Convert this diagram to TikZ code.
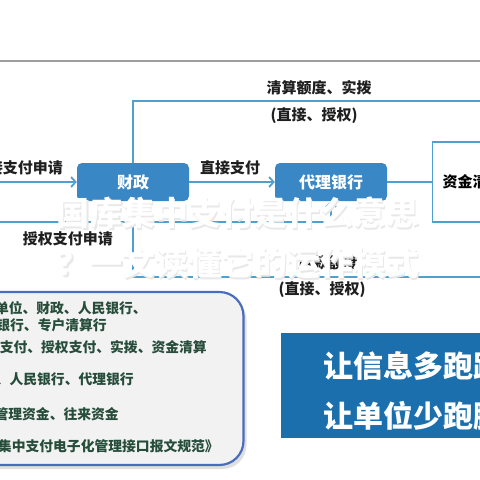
\documentclass[tikz,border=0pt]{standalone}
\usepackage{fontspec}
\setmainfont{Noto Sans CJK SC}
\usetikzlibrary{arrows.meta,shadows}
\definecolor{boxblue}{RGB}{58,135,198}
\definecolor{lineblue}{RGB}{78,160,206}
\definecolor{deepblue}{RGB}{26,111,172}
\definecolor{panelline}{RGB}{72,108,190}
\definecolor{panelfill}{RGB}{242,242,242}
\definecolor{notegreen}{RGB}{38,76,58}
\tikzset{
	box/.style={rounded corners=5pt,fill=boxblue,text=white,minimum width=112pt,minimum height=38pt,font=\fontsize{16}{16}\selectfont\bfseries},
	outbox/.style={draw=lineblue,line width=1.3pt,minimum width=90pt,minimum height=80pt,text width=70pt,align=left,font=\fontsize{15}{15}\selectfont\bfseries},
	flow/.style={draw=lineblue,line width=1.8pt},
	tip/.style={-{Straight Barb[length=4.5pt,width=10pt]}},
	lbl/.style={inner sep=0pt,text=black!88,font=\fontsize{15}{15}\selectfont\bfseries},
	note/.style={inner sep=0pt,anchor=east,text=notegreen,font=\fontsize{13.8}{14}\selectfont\bfseries},
	panel/.style={rounded corners=24pt,draw=panelline,line width=2.2pt,fill=panelfill,drop shadow={shadow xshift=3pt,shadow yshift=-4pt,opacity=.25}},
	slogan/.style={inner sep=0pt,anchor=west,text=white,font=\fontsize{30}{30}\selectfont\bfseries},
	wm/.style={inner sep=0pt,text=white,font=\fontsize{33}{33}\selectfont\bfseries}
}
\begin{document}
\begin{tikzpicture}[x=1pt,y=-1pt]
	\useasboundingbox (0,0) rectangle (480,480);
	\clip (0,0) rectangle (480,480);
	\fill[white] (0,0) rectangle (480,480);
	\draw[black!38,line width=2pt] (0,61) -- (480,61);

	% flow part
	\node [box] (cz) at (133,182) {财政};
	\node [box] (dl) at (331,182) {代理银行};
	\node [outbox,anchor=west] (zj) at (432,182) {资金清算};

	\coordinate (in1) at (0,182);
	\coordinate (in2) at (0,222);
	\coordinate (top) at (480,101);
	\coordinate (bot) at (480,277);

	\draw [flow,tip] (in1) -- (cz);
	\draw [flow,tip] (cz) -- (dl);
	\draw [flow] (dl) -- (zj);
	\draw [flow] (cz.north) |- (top);
	\draw [flow,tip] (in2) -| (dl.south);
	\draw [flow] (cz.south) |- (bot);

	\node [lbl,anchor=east] at (63,168) {直接支付申请};
	\node [lbl] at (230,168) {直接支付};
	\node [lbl] at (319,88) {清算额度、实拨};
	\node [lbl] at (314,116) {(直接、授权)};
	\node [lbl] at (68,239) {授权支付申请};
	\node [lbl] at (328,263) {用款额度};
	\node [lbl] at (322,290) {(直接、授权)};

	% notes
	\node [panel,minimum width=275pt,minimum height=173pt] (info) at (106,378.5) {};
	\node [note] at (147,308) {单位、财政、人民银行、};
	\node [note] at (107,325) {银行、专户清算行};
	\node [note] at (207,347) {支付、授权支付、实拨、资金清算};
	\node [note] at (134,379) {、人民银行、代理银行};
	\node [note] at (119,414) {管理资金、往来资金};
	\node [note] at (219,446) {集中支付电子化管理接口报文规范》};

	\node [fill=deepblue,anchor=north west,minimum width=230pt,minimum height=105pt] (sl) at (281,333) {};
	\node [slogan] at (323,366) {让信息多跑路};
	\node [slogan] at (323,416) {让单位少跑腿};

	% title overlay
	\foreach \t/\y in {国库集中支付是什么意思/213,？一文读懂它的运作模式/263} {
		\node [wm,text=black!9] at (239.5,\y+1.5) {\t};
		\node [wm] at (238,\y) {\t};
	}
\end{tikzpicture}
\end{document}
